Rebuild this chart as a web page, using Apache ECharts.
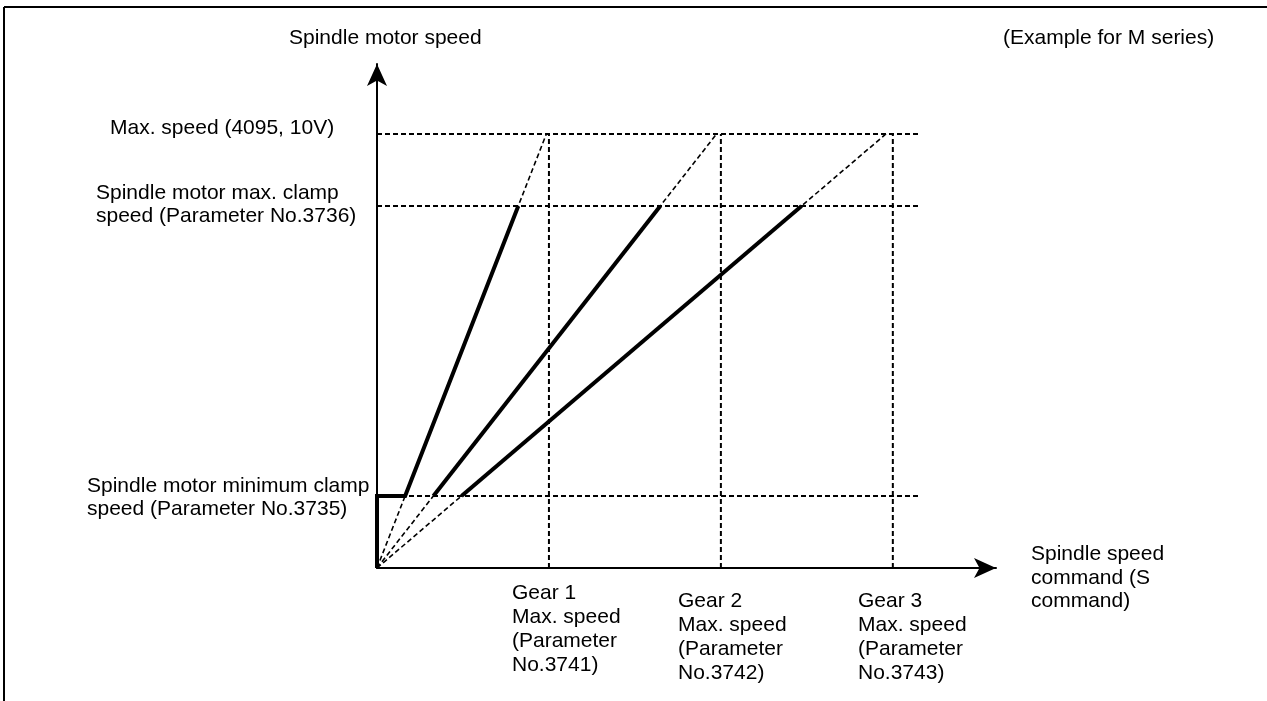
<!DOCTYPE html>
<html>
<head>
<meta charset="utf-8">
<script src="https://cdn.jsdelivr.net/npm/echarts@6/dist/echarts.min.js"></script>
<style>
html,body{margin:0;padding:0;background:#fff;}
#c{width:1267px;height:701px;}
</style>
</head>
<body>
<div id="c"></div>
<script>
// ---- data ----
// spindle motor speed levels (y)
const maxSpeed = 4095;          // Max. speed (4095, 10V)
const maxClamp = 3416;          // Spindle motor max. clamp speed (No.3736)
const minClamp = 680;           // Spindle motor minimum clamp speed (No.3735)
// spindle speed command (x)
const gearNames = ['Gear 1', 'Gear 2', 'Gear 3'];
const gearMaxCmd = [1000, 2000, 3000];   // gear max speed (No.3741-3743)
const gearTopCmd = [985, 1975, 2960];    // command where each gear line reaches max speed
const guideEnd = 3160;                   // end of horizontal guide lines
const xMax = 3600;
const yMax = 4755;
const gearLabels = [
  'Gear 1\nMax. speed\n(Parameter\nNo.3741)',
  'Gear 2\nMax. speed\n(Parameter\nNo.3742)',
  'Gear 3\nMax. speed\n(Parameter\nNo.3743)'
];

const FONT = '"Liberation Sans", Arial, Helvetica, sans-serif';
const dashStyle = {color: '#000', width: 2, type: [5, 3]};
const series = [];

// horizontal guide lines
[maxSpeed, maxClamp, minClamp].forEach(function (v, i) {
  series.push({type: 'line', name: 'h' + i, data: [[0, v], [guideEnd, v]],
    symbol: 'none', lineStyle: dashStyle, silent: true, z: 2});
});
// vertical guide lines at each gear's max speed
gearMaxCmd.forEach(function (g, i) {
  series.push({type: 'line', name: 'v' + i, data: [[g, 0], [g, maxSpeed]],
    symbol: 'none', lineStyle: dashStyle, silent: true, z: 2});
});
// dashed gear ratio lines from origin to max speed
gearTopCmd.forEach(function (t, i) {
  series.push({type: 'line', name: 'd' + i, data: [[0, 0], [t, maxSpeed]],
    symbol: 'none', lineStyle: {color: '#000', width: 1.6, type: [5, 3]}, silent: true, z: 2});
});
// thick effective segments (between clamp speeds)
gearTopCmd.forEach(function (t, i) {
  const xLow = t * minClamp / maxSpeed;
  const xHigh = t * maxClamp / maxSpeed;
  const pts = i === 0 ? [[0, 0], [0, minClamp], [xLow, minClamp], [xHigh, maxClamp]]
                      : [[xLow, minClamp], [xHigh, maxClamp]];
  series.push({type: 'line', name: gearNames[i], data: pts,
    symbol: 'none', lineStyle: {color: '#000', width: 4, type: 'solid', cap: 'butt', join: 'miter'}, silent: true, z: 4});
});

const textStyle = function (t, l, top, lh) {
  return {type: 'text', left: l, top: top, z: 10,
    style: {text: t, font: '21px ' + FONT, fill: '#000', lineHeight: lh || 23}};
};

const chart = echarts.init(document.getElementById('c'), null, {renderer: 'canvas'});
chart.setOption({
  backgroundColor: '#fff',
  animation: false,
  grid: {left: 377, right: 271, top: 64, bottom: 133, containLabel: false},
  xAxis: {
    type: 'value', min: 0, max: xMax,
    axisLine: {show: true, symbol: ['none', 'arrow'], symbolSize: [15, 22],
      lineStyle: {color: '#000', width: 2}},
    axisTick: {show: false}, axisLabel: {show: false}, splitLine: {show: false}
  },
  yAxis: {
    type: 'value', min: 0, max: yMax,
    axisLine: {show: true, symbol: ['none', 'arrow'], symbolSize: [15, 22],
      lineStyle: {color: '#000', width: 2}},
    axisTick: {show: false}, axisLabel: {show: false}, splitLine: {show: false}
  },
  series: series,
  graphic: [
    // page frame
    {type: 'line', shape: {x1: 4, y1: 7, x2: 1267, y2: 7}, style: {stroke: '#000', lineWidth: 2}, z: 10},
    {type: 'line', shape: {x1: 4, y1: 7, x2: 4, y2: 701}, style: {stroke: '#000', lineWidth: 2}, z: 10},
    textStyle('Spindle motor speed', 289, 26.5),
    textStyle('(Example for M series)', 1003, 26.5),
    textStyle('Max. speed (4095, 10V)', 110, 116.5),
    textStyle('Spindle motor max. clamp\nspeed (Parameter No.3736)', 96, 181.5),
    textStyle('Spindle motor minimum clamp\nspeed (Parameter No.3735)', 87, 474.5),
    textStyle('Spindle speed\ncommand (S\ncommand)', 1031, 542.5, 23.5),
    textStyle(gearLabels[0], 512, 581.5, 24),
    textStyle(gearLabels[1], 678, 589.5, 24),
    textStyle(gearLabels[2], 858, 589.5, 24)
  ]
});
</script>
</body>
</html>
